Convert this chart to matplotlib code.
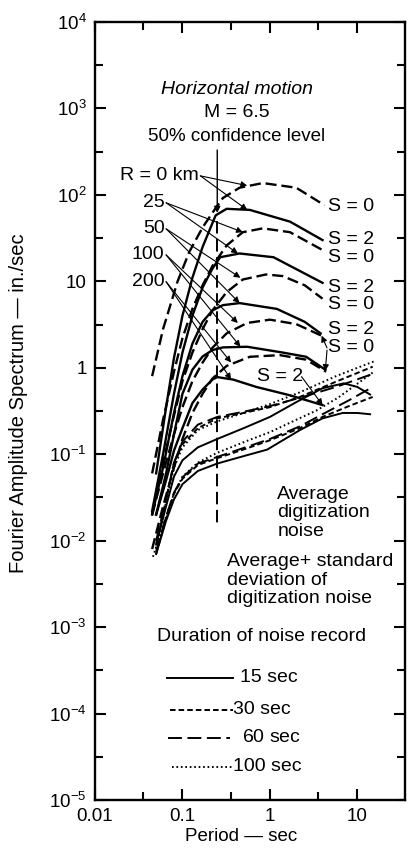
import numpy as np
import matplotlib.pyplot as plt
from matplotlib.ticker import FixedLocator, FixedFormatter, NullFormatter

plt.rcParams['font.family'] = ['Liberation Sans', 'DejaVu Sans']
plt.rcParams['mathtext.fontset'] = 'custom'
plt.rcParams['mathtext.rm'] = 'Liberation Sans'
plt.rcParams['mathtext.it'] = 'Liberation Sans:italic'
plt.rcParams['lines.scale_dashes'] = False

# Fourier amplitude spectra, M = 6.5, period (sec) vs amplitude (in./sec)
# S = 0 -> dashed, S = 2 -> solid
r0_s0_T = [0.045, 0.06, 0.088, 0.12, 0.17, 0.22, 0.29, 0.45, 0.83, 2.0, 4.2]
r0_s0_A = [0.8, 2.8, 10, 22, 42, 62, 92, 121, 137, 121, 76]
r0_s2_T = [0.05, 0.065, 0.08, 0.1, 0.13, 0.17, 0.21, 0.24, 0.32, 0.59, 1.7, 4.0]
r0_s2_A = [0.06, 0.35, 1.3, 4, 11, 25, 42, 58, 69, 67, 49, 30]

r25_s0_T = [0.045, 0.06, 0.08, 0.1, 0.13, 0.17, 0.22, 0.32, 0.49, 0.83, 1.7, 4.0]
r25_s0_A = [0.06, 0.25, 0.9, 2.2, 4.8, 9, 15, 26, 37, 41, 37, 23]
r25_s2_T = [0.045, 0.06, 0.08, 0.1, 0.13, 0.17, 0.22, 0.27, 0.45, 1.1, 4.0]
r25_s2_A = [0.022, 0.1, 0.5, 1.5, 4, 8.5, 14, 19, 21, 19, 9.6]

r50_s0_T = [0.045, 0.06, 0.08, 0.1, 0.13, 0.17, 0.22, 0.32, 0.49, 0.9, 1.4, 2.5, 4.0]
r50_s0_A = [0.02, 0.08, 0.28, 0.7, 1.5, 2.8, 4.6, 7.5, 10.5, 12, 11.5, 9, 6.3]
r50_s2_T = [0.045, 0.06, 0.08, 0.1, 0.13, 0.17, 0.22, 0.29, 0.45, 1.2, 2.5, 3.8]
r50_s2_A = [0.02, 0.07, 0.3, 0.8, 1.9, 3.4, 4.6, 5.3, 5.6, 4.8, 3.4, 2.5]

r100_s0_T = [0.045, 0.06, 0.08, 0.1, 0.13, 0.17, 0.22, 0.32, 0.55, 1.0, 2.0, 3.9]
r100_s0_A = [0.02, 0.06, 0.17, 0.35, 0.7, 1.15, 1.7, 2.5, 3.3, 3.6, 3.2, 2.35]
r100_s2_T = [0.05, 0.065, 0.08, 0.1, 0.13, 0.17, 0.22, 0.29, 0.55, 1.4, 2.6, 4.3]
r100_s2_A = [0.02, 0.06, 0.17, 0.5, 0.95, 1.35, 1.6, 1.72, 1.75, 1.5, 1.34, 0.95]

r200_s0_T = [0.045, 0.06, 0.08, 0.1, 0.13, 0.17, 0.22, 0.32, 0.59, 1.3, 2.6, 4.4]
r200_s0_A = [0.008, 0.025, 0.07, 0.15, 0.3, 0.5, 0.75, 1.05, 1.34, 1.4, 1.24, 0.9]
r200_s2_T = [0.05, 0.065, 0.08, 0.1, 0.13, 0.17, 0.22, 0.25, 0.38, 0.7, 1.7, 4.0]
r200_s2_A = [0.02, 0.05, 0.11, 0.2, 0.39, 0.56, 0.73, 0.78, 0.73, 0.6, 0.48, 0.37]

# digitization noise, average + standard deviation (upper band)
nstd15_T = [0.05, 0.065, 0.08, 0.1, 0.15, 0.25, 0.5, 1.0, 2.0, 4.0, 7.0, 10, 14]
nstd15_A = [0.009, 0.025, 0.055, 0.085, 0.12, 0.15, 0.2, 0.27, 0.4, 0.58, 0.66, 0.6, 0.49]
nstd30_T = [0.05, 0.065, 0.08, 0.1, 0.15, 0.25, 0.5, 1.0, 2.2, 5.7, 15]
nstd30_A = [0.009, 0.03, 0.08, 0.13, 0.2, 0.26, 0.3, 0.35, 0.46, 0.69, 1.03]
nstd60_T = [0.05, 0.065, 0.08, 0.1, 0.15, 0.25, 0.5, 1.0, 2.2, 5.7, 15]
nstd60_A = [0.01, 0.03, 0.08, 0.14, 0.22, 0.27, 0.31, 0.36, 0.45, 0.6, 0.85]
nstd100_T = [0.05, 0.065, 0.08, 0.1, 0.15, 0.25, 0.5, 1.0, 2.2, 5.7, 16]
nstd100_A = [0.008, 0.028, 0.07, 0.12, 0.19, 0.24, 0.3, 0.38, 0.52, 0.8, 1.2]

# digitization noise, average (lower band)
navg15_T = [0.05, 0.065, 0.08, 0.1, 0.15, 0.25, 0.5, 0.93, 2.2, 4.0, 6.8, 10, 14]
navg15_A = [0.007, 0.017, 0.03, 0.045, 0.064, 0.078, 0.095, 0.113, 0.19, 0.26, 0.3, 0.3, 0.29]
navg30_T = [0.05, 0.065, 0.08, 0.1, 0.15, 0.25, 0.59, 1.0, 2.2, 4.0, 8.0, 15]
navg30_A = [0.007, 0.018, 0.035, 0.052, 0.075, 0.09, 0.12, 0.145, 0.2, 0.27, 0.36, 0.46]
navg60_T = [0.05, 0.065, 0.08, 0.1, 0.15, 0.25, 0.59, 1.0, 2.2, 4.0, 8.0, 15]
navg60_A = [0.0075, 0.019, 0.036, 0.054, 0.078, 0.093, 0.125, 0.15, 0.21, 0.29, 0.42, 0.6]
navg100_T = [0.046, 0.06, 0.08, 0.1, 0.15, 0.25, 0.59, 1.0, 2.0, 3.4, 6.0, 15]
navg100_A = [0.0065, 0.015, 0.035, 0.055, 0.08, 0.104, 0.147, 0.18, 0.25, 0.32, 0.45, 0.88]

durations = ['15', '30', '60', '100']
noise_dashes = {'15': None, '30': (4, 2.2), '60': (10, 4), '100': (1.2, 2)}

fig = plt.figure(figsize=(4.09, 8.59), dpi=100)
ax = fig.add_axes([0.2323, 0.0687, 0.7577, 0.9057])
ax.set_xscale('log')
ax.set_yscale('log')
ax.set_xlim(0.01, 35)
ax.set_ylim(1e-5, 1e4)

LW = 1.7
quake = [
    (r0_s0_T, r0_s0_A, r0_s2_T, r0_s2_A),
    (r25_s0_T, r25_s0_A, r25_s2_T, r25_s2_A),
    (r50_s0_T, r50_s0_A, r50_s2_T, r50_s2_A),
    (r100_s0_T, r100_s0_A, r100_s2_T, r100_s2_A),
    (r200_s0_T, r200_s0_A, r200_s2_T, r200_s2_A),
]
for t0, a0, t2, a2 in quake:
    ax.plot(t0, a0, color='black', lw=LW, dashes=(8, 3.5))
    ax.plot(t2, a2, color='black', lw=LW)

noise = {
    '15': [(nstd15_T, nstd15_A), (navg15_T, navg15_A)],
    '30': [(nstd30_T, nstd30_A), (navg30_T, navg30_A)],
    '60': [(nstd60_T, nstd60_A), (navg60_T, navg60_A)],
    '100': [(nstd100_T, nstd100_A), (navg100_T, navg100_A)],
}
for d in durations:
    for t, a in noise[d]:
        line, = ax.plot(t, a, color='black', lw=1.4)
        if noise_dashes[d] is not None:
            line.set_dashes(noise_dashes[d])

# period of 0.25 sec marker
ax.plot([0.25, 0.25], [50, 0.015], color='black', lw=1.4, dashes=(9, 4))

FS = 14
ax.text(0.42, 1640, 'Horizontal motion', ha='center', va='center', fontsize=FS,
        style='italic')
ax.text(0.42, 887, 'M = 6.5', ha='center', va='center', fontsize=FS)
ax.text(0.42, 468, '50% confidence level', ha='center', va='center', fontsize=13.5)
ax.annotate('', xy=(0.25, 62), xytext=(0.25, 330),
            arrowprops=dict(arrowstyle='-|>', color='black', lw=1.0,
                            shrinkA=0, shrinkB=0, mutation_scale=9))

arr = dict(arrowstyle='-|>', color='black', lw=0.8, shrinkA=0, shrinkB=0,
           mutation_scale=9)
r_labels = ['R = 0 km', '25', '50', '100', '200']
r_label_pos = [(0.154, 166), (0.0625, 81), (0.0625, 40.5), (0.0625, 20.2), (0.0625, 9.9)]
r_targets = [
    [(0.55, 128), (0.55, 67)],
    [(0.49, 37), (0.43, 21)],
    [(0.46, 11), (0.45, 5.6)],
    [(0.43, 3.3), (0.46, 1.75)],
    [(0.36, 1.15), (0.36, 0.73)],
]
for lab, (x, y), tg in zip(r_labels, r_label_pos, r_targets):
    ax.text(x, y, lab, ha='right', va='center', fontsize=FS)
    for xt, yt in tg:
        ax.annotate('', xy=(xt, yt), xytext=(x * 1.04, y), arrowprops=arr)

s_labels = ['S = 0', 'S = 2', 'S = 0', 'S = 2', 'S = 0', 'S = 2', 'S = 0']
s_label_y = [72.7, 30.2, 18.7, 8.4, 5.35, 2.75, 1.70]
for lab, y in zip(s_labels, s_label_y):
    ax.text(4.6, y, lab, ha='left', va='center', fontsize=FS)
ax.annotate('', xy=(3.9, 2.35), xytext=(4.5, 1.7), arrowprops=arr)
ax.annotate('', xy=(4.3, 0.92), xytext=(4.5, 1.6), arrowprops=arr)
ax.text(0.72, 0.79, 'S = 2', ha='left', va='center', fontsize=FS)
ax.annotate('', xy=(4.0, 0.37), xytext=(2.3, 0.79), arrowprops=arr)

ax.text(1.22, 0.021, 'Average\ndigitization\nnoise', ha='left', va='center',
        fontsize=FS, linespacing=1.1)
ax.text(0.32, 0.0035, 'Average+ standard\ndeviation of\ndigitization noise',
        ha='left', va='center', fontsize=FS, linespacing=1.1)
ax.text(0.8, 0.00078, 'Duration of noise record', ha='center', va='center',
        fontsize=FS)

# key for noise record duration
key_y = [0.157, 0.116, 0.0797, 0.0424]
key_text = ['15 sec', '30 sec', '$\\mathit{60}$ sec', '100 sec']
key_x0 = [0.232, 0.242, 0.235, 0.248]
key_x1 = [0.445, 0.445, 0.435, 0.445]
key_tx = [0.468, 0.446, 0.475, 0.446]
for d, y, txt, x0, x1, tx in zip(durations, key_y, key_text, key_x0, key_x1, key_tx):
    ln, = ax.plot([x0, x1], [y, y], color='black', lw=1.4, transform=ax.transAxes)
    if noise_dashes[d] is not None:
        ln.set_dashes(noise_dashes[d])
    ax.text(tx, y, txt, transform=ax.transAxes, ha='left', va='center', fontsize=FS)

# axes, ticks and labels
for sp in ax.spines.values():
    sp.set_linewidth(1.7)

ydec = [10.0 ** k for k in range(-5, 5)]
ylab = ['$10^{-5}$', '$10^{-4}$', '$10^{-3}$', '$10^{-2}$', '$10^{-1}$', '1', '10',
        '$10^{2}$', '$10^{3}$', '$10^{4}$']
ax.yaxis.set_major_locator(FixedLocator(ydec))
ax.yaxis.set_major_formatter(FixedFormatter(ylab))
ax.yaxis.set_minor_locator(FixedLocator([10.0 ** (k + 0.5) for k in range(-5, 4)]))
ax.yaxis.set_minor_formatter(NullFormatter())

xdec = [0.01, 0.1, 1, 10]
ax.xaxis.set_major_locator(FixedLocator(xdec))
ax.xaxis.set_major_formatter(FixedFormatter(['0.01', '0.1', '1', '10']))
ax.xaxis.set_minor_locator(FixedLocator([10.0 ** (k + 0.55) for k in range(-2, 2)]))
ax.xaxis.set_minor_formatter(NullFormatter())

ax.tick_params(which='both', direction='in', top=True, right=True, width=1.5,
               labelsize=13.5, pad=6)
ax.tick_params(which='major', length=8)
ax.tick_params(which='minor', length=6)

ax.set_xlabel('Period \u2014 sec', fontsize=13.5)
ax.xaxis.set_label_coords(0.47, -0.036)
ax.set_ylabel('Fourier Amplitude Spectrum \u2014 in./sec', fontsize=14.5)
ax.yaxis.set_label_coords(-0.215, 0.51)

fig.savefig('out.png', dpi=100)
